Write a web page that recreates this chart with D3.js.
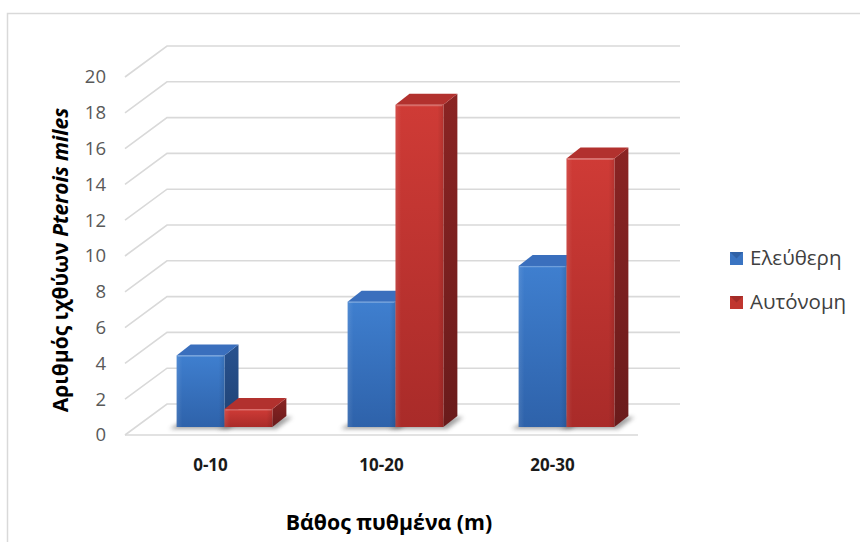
<!DOCTYPE html>
<html>
<head>
<meta charset="utf-8">
<script src="https://cdn.jsdelivr.net/npm/d3@7"></script>
<style>
  html, body { margin: 0; padding: 0; background: #fff; }
  svg { display: block; font-family: "Open Sans", "Noto Sans", sans-serif; }
</style>
</head>
<body>
<svg id="chart" width="860" height="542"></svg>
<script>
// Depth ranges (m) and fish counts per diving mode
const categories = ["0-10", "10-20", "20-30"];
const seriesNames = ["Ελεύθερη", "Αυτόνομη"];
const freeDiving = [4, 7, 9];
const scubaDiving = [1, 18, 15];
const yTicks = [0, 2, 4, 6, 8, 10, 12, 14, 16, 18, 20];

const svg = d3.select("#chart");
const defs = svg.append("defs");

// Oblique 3D layout: front floor edge, wall depth and bar depth
const floorLeft = 125, floorRight = 638, floorY = 435;
const depth = { dx: 42, dy: -31 };
const barOffset = { dx: 14, dy: -8 };   // bar front plane behind floor edge
const barDepth = { dx: 14, dy: -11 };

const y = d3.scaleLinear().domain([0, 20]).range([floorY, 77]);
const x0 = d3.scaleBand().domain(categories).range([floorLeft, floorRight])
  .paddingInner(0.44).paddingOuter(0.22);
const x1 = d3.scaleBand().domain(seriesNames).range([0, x0.bandwidth()]);

// Chart frame
svg.append("rect").attr("x", 7.5).attr("y", 13.5).attr("width", 870).attr("height", 560)
  .attr("fill", "none").attr("stroke", "#d9d9d9").attr("stroke-width", 1.5);

// Gridlines: side wall diagonal + back wall horizontal
const grid = svg.append("g").attr("stroke", "#d9d9d9").attr("stroke-width", 1.6).attr("fill", "none");
yTicks.forEach(t => {
  const yf = y(t), yb = y(t) + depth.dy;
  grid.append("path").attr("d",
    `M${floorLeft},${yf}L${floorLeft + depth.dx},${yb}L${floorRight + depth.dx},${yb}`);
});
// Floor front edge
grid.append("path").attr("d", `M${floorLeft},${floorY}L${floorRight},${floorY}`);

// Y tick labels
svg.append("g").selectAll("text").data(yTicks).join("text")
  .attr("x", 106).attr("y", d => y(d)).attr("dy", "0.35em")
  .attr("text-anchor", "end").attr("fill", "#595959")
  .attr("font-size", 18.5).text(d => d);

// Category labels
svg.append("g").selectAll("text").data(categories).join("text")
  .attr("x", d => x0(d) + x0.bandwidth() / 2).attr("y", 465).attr("dy", "0.35em")
  .attr("text-anchor", "middle").attr("fill", "#1a1a1a")
  .attr("font-size", 17).attr("font-weight", 700).text(d => d);

// Axis titles
svg.append("text").attr("x", 389).attr("y", 523).attr("dy", "0.35em")
  .attr("text-anchor", "middle").attr("fill", "#000").attr("font-size", 21.3)
  .attr("font-weight", 700).text("Βάθος πυθμένα (m)");

const yTitle = svg.append("text").attr("transform", "translate(61,260) rotate(-90)")
  .attr("text-anchor", "middle").attr("dy", "0.35em").attr("fill", "#000")
  .attr("font-size", 21).attr("font-weight", 700);
yTitle.append("tspan").text("Αριθμός ιχθύων ");
yTitle.append("tspan").attr("font-style", "italic").text("Pterois miles");

// Colour sets for the two series
const palette = {
  "Ελεύθερη": { front: ["#3f7fcf", "#2e62aa"], top: "#3a6fbd", side: ["#28528f", "#1f4274"], key: "#3a74c2" },
  "Αυτόνομη": { front: ["#cf3b36", "#a92b29"], top: "#b2312e", side: ["#8a2423", "#6a1b1b"], key: "#c0362f" }
};
seriesNames.forEach((s, i) => {
  const p = palette[s];
  const gf = defs.append("linearGradient").attr("id", "front" + i).attr("x1", 0).attr("y1", 0).attr("x2", 0).attr("y2", 1);
  gf.append("stop").attr("offset", 0).attr("stop-color", p.front[0]);
  gf.append("stop").attr("offset", 1).attr("stop-color", p.front[1]);
  const gh = defs.append("linearGradient").attr("id", "frontH" + i).attr("x1", 0).attr("y1", 0).attr("x2", 1).attr("y2", 0);
  gh.append("stop").attr("offset", 0).attr("stop-color", "#fff").attr("stop-opacity", 0.10);
  gh.append("stop").attr("offset", 0.12).attr("stop-color", "#fff").attr("stop-opacity", 0);
  gh.append("stop").attr("offset", 0.88).attr("stop-color", "#000").attr("stop-opacity", 0);
  gh.append("stop").attr("offset", 1).attr("stop-color", "#000").attr("stop-opacity", 0.12);
  const gs = defs.append("linearGradient").attr("id", "side" + i).attr("x1", 0).attr("y1", 0).attr("x2", 0).attr("y2", 1);
  gs.append("stop").attr("offset", 0).attr("stop-color", p.side[0]);
  gs.append("stop").attr("offset", 1).attr("stop-color", p.side[1]);
});
defs.append("filter").attr("id", "soft").attr("x", "-50%").attr("y", "-50%").attr("width", "200%").attr("height", "200%")
  .append("feGaussianBlur").attr("stdDeviation", 2.2);

// Bar records built from the value arrays
const valuesBySeries = [freeDiving, scubaDiving];
const bars = [];
categories.forEach((c, ci) => {
  seriesNames.forEach((s, si) => {
    bars.push({ cat: c, series: s, si, value: valuesBySeries[si][ci] });
  });
});

const barBase = floorY + barOffset.dy;
const shadowLayer = svg.append("g");
const barLayer = svg.append("g");

bars.forEach(b => {
  const xl = x0(b.cat) + x1(b.series) + barOffset.dx;
  const w = x1.bandwidth();
  const yt = y(b.value) + barOffset.dy;
  const dx = barDepth.dx, dy = barDepth.dy;

  // Soft contact shadow on the floor
  shadowLayer.append("path")
    .attr("d", `M${xl - 7},${barBase + 2}L${xl + w + 4},${barBase + 2}L${xl + w + dx + 6},${barBase + dy + 1}L${xl + dx - 2},${barBase + dy + 1}Z`)
    .attr("fill", "#555").attr("opacity", 0.55).attr("filter", "url(#soft)");

  const g = barLayer.append("g").attr("stroke-linejoin", "round");
  // Side face
  g.append("path")
    .attr("d", `M${xl + w},${yt}L${xl + w + dx},${yt + dy}L${xl + w + dx},${barBase + dy}L${xl + w},${barBase}Z`)
    .attr("fill", `url(#side${b.si})`);
  // Top face
  g.append("path")
    .attr("d", `M${xl},${yt}L${xl + dx},${yt + dy}L${xl + w + dx},${yt + dy}L${xl + w},${yt}Z`)
    .attr("fill", palette[b.series].top);
  // Front face
  g.append("rect").attr("x", xl).attr("y", yt).attr("width", w).attr("height", barBase - yt)
    .attr("fill", `url(#front${b.si})`);
  g.append("rect").attr("x", xl).attr("y", yt).attr("width", w).attr("height", barBase - yt)
    .attr("fill", `url(#frontH${b.si})`);
  // Bevel highlight along the top front edge
  g.append("path").attr("d", `M${xl + 1},${yt + 0.8}L${xl + w - 1},${yt + 0.8}`)
    .attr("stroke", "#fff").attr("stroke-opacity", 0.25).attr("stroke-width", 1.2);
});

// Legend
const legend = svg.append("g");
seriesNames.forEach((s, i) => {
  const ly = 258 + i * 44;
  const p = palette[s];
  legend.append("rect").attr("x", 730).attr("y", ly - 6).attr("width", 13).attr("height", 13)
    .attr("fill", p.key);
  legend.append("path").attr("d", `M730,${ly - 6}L736.5,${ly + 0.5}L743,${ly - 6}Z`)
    .attr("fill", p.side[0]).attr("opacity", 0.55);
  legend.append("text").attr("x", 750).attr("y", ly).attr("dy", "0.35em")
    .attr("fill", "#404040").attr("font-size", 20.5).text(s);
});
</script>
</body>
</html>
